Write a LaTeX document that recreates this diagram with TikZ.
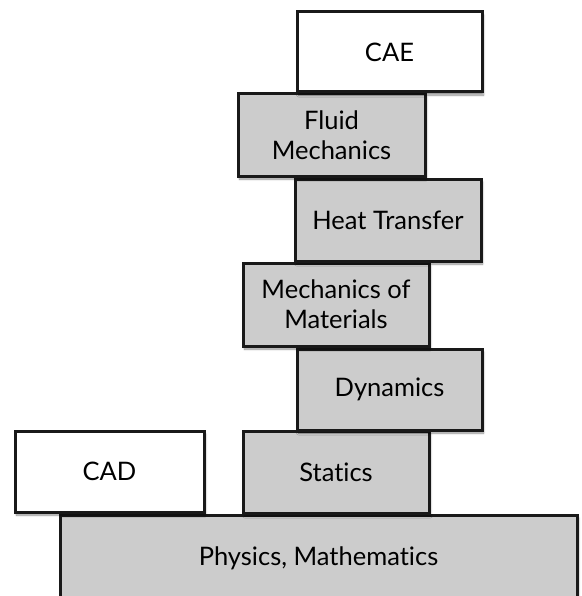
\documentclass[tikz,border=0pt]{standalone}
\usepackage{fontspec}
\setmainfont[Ligatures=NoCommon]{Lato}
\usetikzlibrary{shadows.blur}
\definecolor{boxgray}{HTML}{CCCCCC}
\tikzset{
  blk/.style={draw=black!90, line width=3pt, rectangle, align=center,
    font=\fontsize{25.5}{30}\selectfont, text=black,
    blur shadow={shadow blur steps=6, shadow xshift=1.5pt, shadow yshift=-3pt, shadow opacity=45}},
  grayblk/.style={blk, fill=boxgray},
  whiteblk/.style={blk, fill=white}
}
\begin{document}
\begin{tikzpicture}[x=1pt,y=-1pt]
\useasboundingbox (0,0) rectangle (581,596);
\clip (0,0) rectangle (581,596);
\node[grayblk, minimum width=517pt, minimum height=86pt] (phys) at (318.5,558) {Physics, Mathematics};
\node[whiteblk, minimum width=189pt, minimum height=81pt] (cad) at (109.5,471.5) {CAD};
\node[grayblk, minimum width=186pt, minimum height=82pt] (stat) at (336,472) {Statics};
\node[grayblk, minimum width=185pt, minimum height=81pt] (dyn) at (389.5,389.5) {Dynamics};
\node[grayblk, minimum width=186pt, minimum height=83pt] (mom) at (336,304.5) {Mechanics of\\Materials};
\node[grayblk, minimum width=186pt, minimum height=82pt] (heat) at (388,220) {Heat Transfer};
\node[grayblk, minimum width=187pt, minimum height=82pt] (fluid) at (331.5,135) {Fluid\\Mechanics};
\node[whiteblk, minimum width=185pt, minimum height=80pt] (cae) at (389.5,52) {CAE};
\end{tikzpicture}
\end{document}
